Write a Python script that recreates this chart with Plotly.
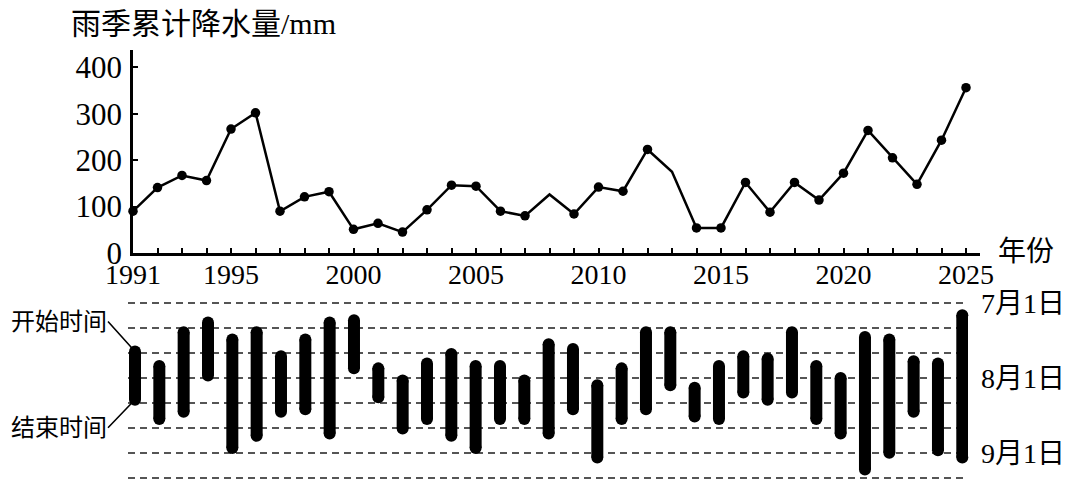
import plotly.graph_objects as go

# ---------------- data ----------------
years = list(range(1991, 2026))
rain_mm = [90, 141, 167, 156, 267, 302, 90, 121, 132, 51,
           64, 45, 93, 146, 144, 90, 80, 126, 84, 142,
           133, 223, 175, 54, 54, 152, 88, 152, 114, 172,
           264, 205, 148, 243, 356]
no_marker_years = [2008, 2013]

# rainy-season start / end, days after July 1
start_day = [20, 26, 12, 8, 15, 12, 22, 15, 8, 7,
             27, 32, 25, 21, 26, 26, 32, 17, 19, 34,
             27, 12, 12, 35, 26, 22, 23, 12, 26, 31,
             14, 15, 24, 25, 5]
end_day = [40, 48, 45, 30, 60, 55, 45, 44, 54, 27,
           39, 52, 48, 55, 60, 48, 48, 54, 44, 64,
           48, 44, 34, 47, 48, 37, 40, 37, 48, 54,
           69, 62, 45, 61, 64]

x_tick_years = years
x_tick_text = [str(y) if (y == 1991 or y % 5 == 0) else "" for y in years]
y_ticks = [0, 100, 200, 300, 400]
date_grid = [k * 31 / 3 for k in range(8)]
date_text = ["7月1日", "", "", "8月1日", "", "", "9月1日", ""]

# ---------------- layout helpers ----------------
# page body has an 8px margin: size the figure to fit the window exactly
OX, OY = 8, 8
WIN_W, WIN_H = 1080, 488
W, H = WIN_W - 2 * OX, WIN_H - 2 * OY
FONT = "Liberation Serif, Times New Roman, Noto Sans CJK SC, serif"

def px_x(p):          # window pixel -> paper x
    return (p - OX) / W

def px_y(p):          # window pixel -> paper y
    return (H - (p - OY)) / H

# top chart geometry (window pixels)
top_left, top_right = 133, 980
top_bottom, top_top = 253, 50
yr_px = 24.5
top_xr = [1991, 1991 + (top_right - top_left) / yr_px]
mm_px = 0.4643
top_yr = [0, (top_bottom - top_top) / mm_px]

# bottom chart geometry
bot_left, bot_right = 128, 968
bar_x0, bar_x1 = 135, 962.3
bpy = (bar_x1 - bar_x0) / (years[-1] - years[0])
bot_xr = [1991 - (bar_x0 - bot_left) / bpy, 2025 + (bot_right - bar_x1) / bpy]
d_px = 2.41
d0_px = 303.3
d_lo, d_hi = -5, 73
bot_top_px = d0_px + d_lo * d_px
bot_bot_px = d0_px + d_hi * d_px

fig = go.Figure()

# rainfall line
fig.add_trace(go.Scatter(
    x=years, y=rain_mm, mode="lines+markers",
    line=dict(color="black", width=2.5),
    marker=dict(color="black", opacity=1, line=dict(width=0),
                size=[0 if y in no_marker_years else 9.5 for y in years]),
    xaxis="x", yaxis="y", showlegend=False, hoverinfo="skip", cliponaxis=False))

# season bars
bx, by = [], []
for yr, s, e in zip(years, start_day, end_day):
    bx += [yr, yr, None]
    by += [s, e, None]
fig.add_trace(go.Scatter(
    x=bx, y=by, mode="lines+markers",
    line=dict(color="black", width=12),
    marker=dict(color="black", size=12, opacity=1, line=dict(width=0)),
    xaxis="x2", yaxis="y2", showlegend=False, hoverinfo="skip",
    connectgaps=False, cliponaxis=False))

fig.update_layout(
    width=W, height=H, autosize=False,
    margin=dict(l=0, r=0, t=0, b=0, pad=0, autoexpand=False),
    showlegend=False,
    paper_bgcolor="white", plot_bgcolor="white",
    font=dict(family=FONT, color="black", size=26),
    xaxis=dict(domain=[px_x(top_left), px_x(top_right)], range=top_xr,
               tickvals=x_tick_years, ticktext=x_tick_text,
               ticks="inside", ticklen=5, tickwidth=2, tickcolor="black",
               showline=True, linecolor="black", linewidth=2.5,
               showgrid=False, zeroline=False, automargin=False,
               tickfont=dict(size=28, family=FONT), ticklabelstandoff=-5,
               anchor="y"),
    yaxis=dict(domain=[px_y(top_bottom), px_y(top_top)], range=top_yr,
               tickvals=y_ticks,
               ticks="inside", ticklen=5, tickwidth=2, tickcolor="black",
               showline=True, linecolor="black", linewidth=2.5,
               showgrid=False, zeroline=False, automargin=False,
               tickfont=dict(size=31, family=FONT), ticklabelstandoff=2,
               anchor="x"),
    xaxis2=dict(domain=[px_x(bot_left), px_x(bot_right)], range=bot_xr,
                visible=False, automargin=False, anchor="y2"),
    yaxis2=dict(domain=[px_y(bot_bot_px), px_y(bot_top_px)], range=[d_hi, d_lo],
                tickvals=date_grid, ticktext=date_text, side="right",
                showgrid=True, gridcolor="#555555", gridwidth=1.5, griddash="7px,5px",
                showline=False, zeroline=False, ticks="", automargin=False,
                tickfont=dict(size=28, family=FONT), ticklabelstandoff=12,
                anchor="x2"),
)

# title & axis label
fig.add_annotation(text="雨季累计降水量/mm", x=px_x(70), y=px_y(23), xref="paper", yref="paper",
                   xanchor="left", yanchor="middle", showarrow=False, borderpad=0,
                   font=dict(size=30, family=FONT))
fig.add_annotation(text="年份", x=px_x(996), y=px_y(252), xref="paper", yref="paper",
                   xanchor="left", yanchor="middle", showarrow=False,
                   font=dict(size=28, family=FONT))

# start / end callouts pointing at the first bar
fig.add_annotation(text="开始时间", x=years[0], y=start_day[0], xref="x2", yref="y2",
                   ax=-27, ay=-30, xanchor="right", yanchor="middle", borderpad=0,
                   showarrow=True, arrowhead=0, arrowwidth=1.6, arrowcolor="black",
                   standoff=5, font=dict(size=24, family=FONT))
fig.add_annotation(text="结束时间", x=years[0], y=end_day[0], xref="x2", yref="y2",
                   ax=-27, ay=28, xanchor="right", yanchor="middle", borderpad=0,
                   showarrow=True, arrowhead=0, arrowwidth=1.6, arrowcolor="black",
                   standoff=5, font=dict(size=24, family=FONT))

fig.write_html("out.html")
